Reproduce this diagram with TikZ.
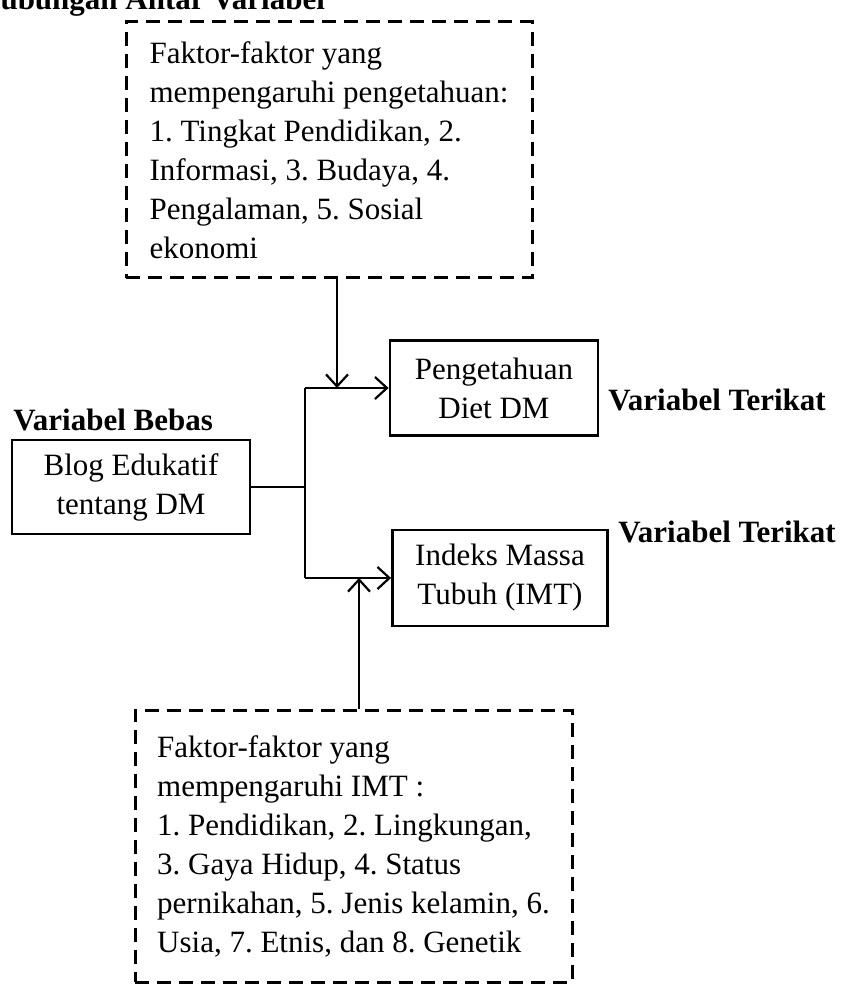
\documentclass[tikz,border=0pt]{standalone}
\usepackage{fontspec}
\setmainfont{Liberation Serif}
\usepackage{tikz}
\usetikzlibrary{arrows.meta, positioning, calc}

\newcommand{\bodysize}{\fontsize{15.5pt}{19.5pt}\selectfont}
\frenchspacing

\tikzset{
  box/.style={draw, line width=1.4pt, align=center, inner sep=0pt},
  factorbox/.style={draw, dash pattern=on 7pt off 4pt, line width=1.5pt, align=left, inner sep=0pt},
  varlabel/.style={anchor=base west, inner sep=0pt, font=\bodysize\bfseries},
  link/.style={line width=1.1pt},
  arr/.style={link, -{Straight Barb[length=6pt, width=11pt, line width=1.1pt]}}
}

\begin{document}
\begin{tikzpicture}[x=0.5pt, y=-0.5pt, font=\bodysize]
\useasboundingbox (0,0) rectangle (845,994);

% Title (cut off by the page)
\node[varlabel] (title) at (-24,10) {Hubungan Antar Variabel};

% Top factors box
\node[factorbox, minimum width=203pt, minimum height=128pt] (topf) at (329,150)
  {Faktor-faktor yang\\mempengaruhi pengetahuan:\\1. Tingkat Pendidikan, 2.\\Informasi, 3. Budaya, 4.\\Pengalaman, 5. Sosial\\ekonomi};

% Variables
\node[varlabel] (vbebas) at (13,430) {Variabel Bebas};
\node[box, minimum width=119pt, minimum height=47pt] (blog) at (131,487) {Blog Edukatif\\tentang DM};

\node[box, minimum width=104pt, minimum height=47.5pt] (peng) at (494,388) {Pengetahuan\\Diet DM};
\node[varlabel] (vterikat1) at (608,410) {Variabel Terikat};

\node[box, minimum width=107.5pt, minimum height=48pt] (imt) at (500,578) {Indeks Massa\\Tubuh (IMT)};
\node[varlabel] (vterikat2) at (618,542) {Variabel Terikat};

% Bottom factors box
\node[factorbox, minimum width=218.5pt, minimum height=136pt] (botf) at (353.5,846)
  {Faktor-faktor yang\\mempengaruhi IMT :\\1. Pendidikan, 2. Lingkungan,\\3. Gaya Hidup, 4. Status\\pernikahan, 5. Jenis kelamin, 6.\\Usia, 7. Etnis, dan 8. Genetik};

% Connectors
\coordinate (jmid) at (305,487);
\coordinate (jtop) at (305,388);
\coordinate (jbot) at (305,578);
\coordinate (topin) at (337,388);
\coordinate (botin) at (359,578);

\draw[link] (blog.east) -- (jmid);
\draw[link] (jtop) -- (jbot);
\draw[arr] (jtop) -- (peng.west);
\draw[arr] (jbot) -- (imt.west);
\draw[arr] (topin |- topf.south) -- (topin);
\draw[arr] (botin |- botf.north) -- (botin);
\end{tikzpicture}
\end{document}
